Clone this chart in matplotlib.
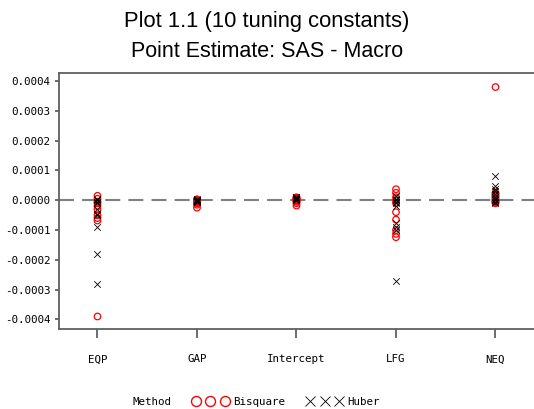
import matplotlib
matplotlib.use("Agg")
import matplotlib.pyplot as plt
import matplotlib.transforms as mtransforms
from matplotlib.lines import Line2D

categories = ["EQP", "GAP", "Intercept", "LFG", "NEQ"]

bisquare = {
    "EQP": [0.000015, 0.000005, -0.000005, -0.00001, -0.00002, -0.00003, -0.00005, -0.00006, -0.000068, -0.00039],
    "GAP": [0.000003, 0.000002, 0.0, -0.000002, -0.000004, -0.000006, -0.000008, -0.00001, -0.000015, -0.000025],
    "Intercept": [0.00001, 0.000008, 0.000006, 0.000005, 0.000003, 0.0, -0.000002, -0.000005, -0.00001, -0.000018],
    "LFG": [0.000037, 0.000025, 0.00001, 0.0, -0.00001, -0.00004, -0.000065, -0.0001, -0.000113, -0.000124],
    "NEQ": [0.00038, 0.000025, 0.00002, 0.000015, 0.00001, 0.000005, 0.0, -0.000003, -0.000006, -0.00001],
}
huber = {
    "EQP": [0.000003, 0.0, -0.000005, -0.00001, -0.00003, -0.000045, -0.00005, -0.00009, -0.00018, -0.00028],
    "GAP": [0.000003, 0.000002, 0.000001, 0.0, -0.000001, -0.000002, -0.000003, -0.000004, -0.000005, -0.000006],
    "Intercept": [0.000012, 0.00001, 0.000008, 0.000006, 0.000005, 0.000004, 0.000003, 0.000002, 0.000001, 0.0],
    "LFG": [0.000015, 0.000005, 0.0, -0.000005, -0.00001, -0.00002, -0.000075, -0.00009, -0.0001, -0.00027],
    "NEQ": [0.000083, 0.000048, 0.000038, 0.00003, 0.00002, 0.000012, 0.000005, 0.0, -0.000005, -0.000008],
}
yticks = [-0.0004, -0.0003, -0.0002, -0.0001, 0.0, 0.0001, 0.0002, 0.0003, 0.0004]
methods = ["Bisquare", "Huber"]

fig = plt.figure(figsize=(5.34, 4.09), dpi=100)
ax = fig.add_axes([0.1114, 0.1956, 0.8886, 0.6266])

ax.axhline(0, color="#808080", lw=1.5, dashes=(7.2, 3.9), zorder=1)

for i, c in enumerate(categories):
    ax.scatter([i] * len(bisquare[c]), bisquare[c], marker="o", s=22,
               facecolors="none", edgecolors="red", linewidths=0.9, zorder=3)
    ax.scatter([i] * len(huber[c]), huber[c], marker="x", s=22,
               color="black", linewidths=0.6, zorder=4)

ax.set_xlim(-0.382, 4.387)
ax.set_ylim(-0.000432, 0.000428)
ax.set_xticks(range(len(categories)))
ax.set_xticklabels(categories)
ax.set_yticks(yticks)
ax.set_yticklabels([f"{v:.4f}" for v in yticks])

mono = "DejaVu Sans Mono"
for lab in ax.get_xticklabels() + ax.get_yticklabels():
    lab.set_fontfamily(mono)
    lab.set_fontsize(7.8)
shift = mtransforms.ScaledTranslation(0, -0.04, fig.dpi_scale_trans)
for lab in ax.get_yticklabels():
    lab.set_transform(lab.get_transform() + shift)

ax.spines["right"].set_visible(False)
for s in ["left", "top", "bottom"]:
    ax.spines[s].set_color("#606060")
    ax.spines[s].set_linewidth(1.3)
ax.tick_params(axis="x", direction="out", length=6.2, width=1.3, color="#606060", pad=12)
ax.tick_params(axis="y", direction="out", length=3.2, width=1.3, color="#606060", pad=3.5)

fig.text(0.5, 0.934, "Plot 1.1 (10 tuning constants)", ha="center", va="baseline",
         fontsize=15.8, family="Liberation Sans")
fig.text(0.5, 0.8606, "Point Estimate: SAS - Macro", ha="center", va="baseline",
         fontsize=15.5, family="Liberation Sans")

fig.text(0.249, 0.0171, "Method", ha="left", va="center", fontsize=7.8, family=mono)
handles = [
    Line2D([], [], ls="none", marker="o", markersize=7.2, markerfacecolor="none",
           markeredgecolor="red", markeredgewidth=1.0),
    Line2D([], [], ls="none", marker="x", markersize=7.5, color="black",
           markeredgewidth=0.6),
]
leg = fig.legend(handles, methods, loc="center left",
                 bbox_to_anchor=(0.3605, 0.0171), ncol=2, numpoints=3, frameon=False,
                 prop={"family": mono, "size": 7.8}, handlelength=3.3,
                 handletextpad=0.45, columnspacing=2.0, borderpad=0, borderaxespad=0)

fig.savefig("out.png", dpi=100)
